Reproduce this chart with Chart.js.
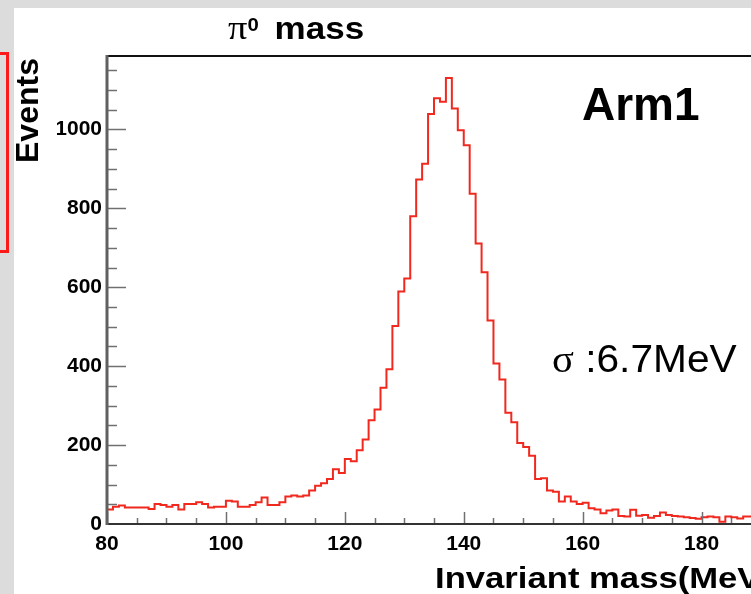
<!DOCTYPE html>
<html>
<head>
<meta charset="utf-8">
<title>pi0 mass</title>
<script src="https://cdn.jsdelivr.net/npm/chart.js@4.4.1/dist/chart.umd.min.js"></script>
<style>
html, body {
    margin: 0;
    width: 751px;
    height: 594px;
    overflow: hidden;
    background: #dcdcdc;
    font-family: "Liberation Sans", Arial, sans-serif;
}
#panel {
    position: absolute;
    left: 14px;
    top: 8px;
    width: 800px;
    height: 600px;
    background: #fff;
}
#redbox {
    position: absolute;
    left: -60px;
    top: 52px;
    width: 63px;
    height: 195px;
    border: 3px solid #ff1a1a;
}
#massChart {
    position: absolute;
    left: 0;
    top: 0;
}
.txt {
    position: absolute;
    white-space: nowrap;
    color: #000;
    transform-origin: left top;
}
#title {
    left: 228px;
    top: 12px;
    font: bold 31px/31px "Liberation Sans", Arial, sans-serif;
    transform: scaleX(1.13);
}
#title .pi { font-family: "Liberation Serif", serif; font-weight: normal; font-size: 34px; }
#title .sup { font-size: 18px; position: relative; top: -8px; }
#title .word { margin-left: 14px; }
#ytitle {
    left: 11px;
    top: 163px;
    font: bold 32px/32px "Liberation Sans", Arial, sans-serif;
    transform: rotate(-90deg);
}
#xtitle {
    left: 435px;
    top: 563px;
    font: bold 30px/30px "Liberation Sans", Arial, sans-serif;
    transform: scaleX(1.155);
}
#arm {
    left: 582px;
    top: 81px;
    font: bold 46px/46px "Liberation Sans", Arial, sans-serif;
}
#sigma {
    left: 552px;
    top: 340px;
    font: 38px/38px "Liberation Sans", Arial, sans-serif;
    transform: scaleX(1.07);
}
#sigma .s { font-family: "Liberation Serif", serif; }
</style>
</head>
<body>
<div id="panel"></div>
<div id="redbox"></div>
<canvas id="massChart" width="846" height="594"></canvas>
<div class="txt" id="title"><span class="pi">π</span><span class="sup">0</span><span class="word">mass</span></div>
<div class="txt" id="ytitle">Events</div>
<div class="txt" id="xtitle">Invariant mass(MeV)</div>
<div class="txt" id="arm">Arm1</div>
<div class="txt" id="sigma"><span class="s">σ</span> :6.7MeV</div>

<script>
// histogram: 1 MeV bins starting at 80 MeV
const binStart = 80;
const binWidth = 1;

// 80 - 119 MeV
const countsLow = [27, 37, 44, 47, 42, 42, 42, 42, 38, 51,
    48, 44, 48, 37, 51, 51, 55, 51, 42, 44,
    44, 59, 57, 44, 44, 48, 55, 67, 48, 48,
    55, 70, 72, 70, 72, 85, 97, 103, 114, 139];

// 120 - 159 MeV
const countsPeak = [129, 165, 159, 187, 214, 263, 290, 345, 392, 502,
    589, 622, 780, 873, 913, 1039, 1079, 1070, 1130, 1053,
    998, 960, 837, 711, 638, 516, 407, 366, 282, 258,
    205, 195, 173, 114, 116, 85, 82, 57, 70, 57];

// 160 - 188 MeV
const countsHigh = [51, 54, 40, 37, 27, 34, 37, 20, 19, 36,
    21, 23, 16, 20, 29, 23, 20, 19, 17, 15,
    13, 17, 19, 17, 6, 19, 17, 14, 19];

const xTicks = [80, 100, 120, 140, 160, 180, 200];
const yTicks = [0, 200, 400, 600, 800, 1000];

const counts = countsLow.concat(countsPeak, countsHigh);
const histPoints = [{ x: binStart, y: 0 }];
counts.forEach(function (c, i) {
    histPoints.push({ x: binStart + i * binWidth, y: c });
});
histPoints.push({ x: binStart + counts.length * binWidth, y: counts[counts.length - 1] });

// ROOT style frame with ticks pointing into the plot
const frameTicks = {
    id: 'frameTicks',
    afterDatasetsDraw(chart) {
        const c = chart.ctx;
        const area = chart.chartArea;
        const xs = chart.scales.x;
        const ys = chart.scales.y;
        c.save();
        c.lineWidth = 1.5;
        c.strokeStyle = '#707070';
        for (let v = xs.min; v <= xs.max; v += 5) {
            const px = Math.round(xs.getPixelForValue(v)) + 0.5;
            const len = (v % 20 === 0) ? 12 : 6;
            c.beginPath();
            c.moveTo(px, area.bottom);
            c.lineTo(px, area.bottom - len);
            c.stroke();
        }
        for (let v = 50; v < ys.max; v += 50) {
            const py = Math.round(ys.getPixelForValue(v)) + 0.5;
            const len = (v % 200 === 0) ? 19 : 10;
            c.beginPath();
            c.moveTo(area.left, py);
            c.lineTo(area.left + len, py);
            c.stroke();
        }
        // frame
        c.lineWidth = 2;
        c.strokeStyle = '#111';
        c.beginPath();
        c.moveTo(area.left, area.top);
        c.lineTo(area.right, area.top);
        c.lineTo(area.right, area.bottom);
        c.stroke();
        c.strokeStyle = '#333';
        c.beginPath();
        c.moveTo(area.left, area.bottom);
        c.lineTo(area.right, area.bottom);
        c.stroke();
        c.lineWidth = 3;
        c.strokeStyle = '#606060';
        c.beginPath();
        c.moveTo(area.left, area.top - 1);
        c.lineTo(area.left, area.bottom + 1);
        c.stroke();
        c.restore();
    }
};

const ctx = document.getElementById('massChart').getContext('2d');

const massChart = new Chart(ctx, {
type: 'line',
data: {
    datasets: [
    {
        label: 'pi0 mass',
        data: histPoints,
        stepped: 'after',
        borderColor: '#f0281e',
        borderWidth: 2,
        pointRadius: 0,
        fill: false,
    }
    ]
},
options: {
    responsive: false,
    animation: false,
    layout: {
        padding: { left: 57, top: 56, right: 10, bottom: 30 }
    },
    scales: {
    x: {
        type: 'linear',
        min: xTicks[0],
        max: xTicks[xTicks.length - 1],
        afterFit: function (scale) { scale.height = 40; },
        afterBuildTicks: function (scale) {
            scale.ticks = xTicks.map(function (v) { return { value: v }; });
        },
        grid: { display: false, drawTicks: false },
        border: { display: false },
        ticks: {
            padding: 8,
            maxRotation: 0,
            autoSkip: false,
            color: '#000',
            callback: function (value) { return String(value); },
            font: { family: 'Liberation Sans', size: 21, weight: 'bold' }
        }
    },
    y: {
        min: 0,
        max: 1186,
        afterFit: function (scale) { scale.width = 50; },
        afterBuildTicks: function (scale) {
            scale.ticks = yTicks.map(function (v) { return { value: v }; });
        },
        grid: { display: false, drawTicks: false },
        border: { display: false },
        ticks: {
            padding: 5,
            color: '#000',
            callback: function (value) { return String(value); },
            font: { family: 'Liberation Sans', size: 21, weight: 'bold' }
        }
    }
    },
    plugins: {
    legend: { display: false },
    tooltip: { enabled: false }
    }
},
plugins: [frameTicks]
});
</script>
</body>
</html>
